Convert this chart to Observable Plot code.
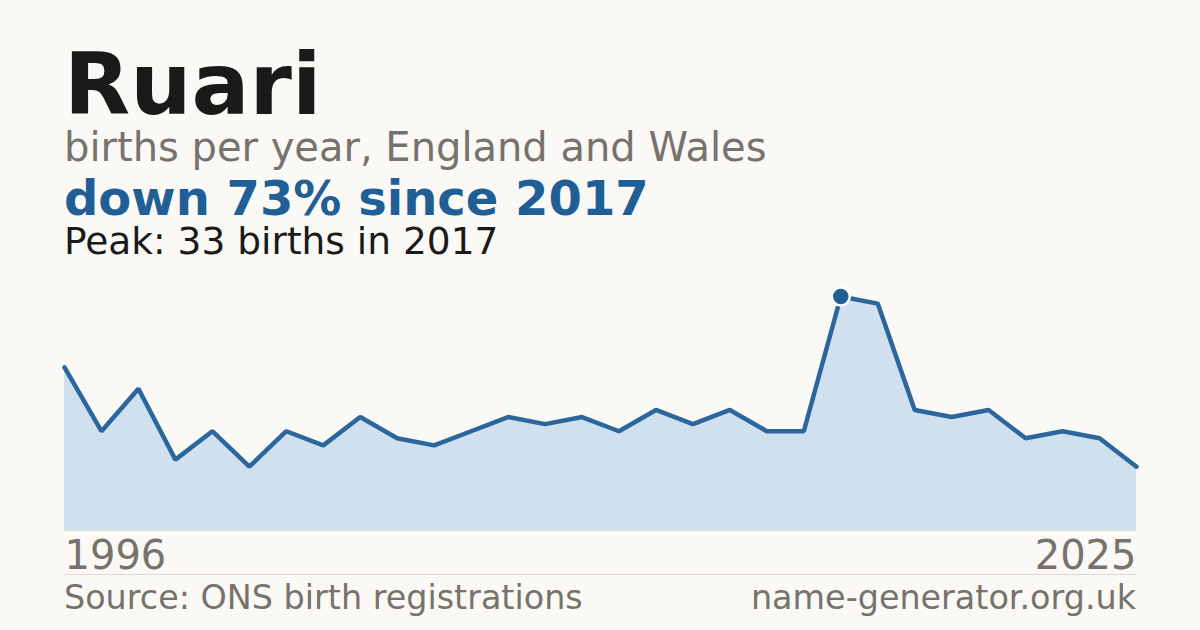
<!DOCTYPE html>
<html>
<head>
<meta charset="utf-8">
<script src="https://cdn.jsdelivr.net/npm/d3@7"></script>
<script src="https://cdn.jsdelivr.net/npm/@observablehq/plot@0.6"></script>
<style>
  html, body { margin: 0; padding: 0; background: #faf9f5; }
  body { width: 1200px; height: 630px; position: relative; overflow: hidden; font-family: "DejaVu Sans", sans-serif; }
  .t { position: absolute; left: 64px; white-space: nowrap; line-height: 0.8; }
  #title { top: 50px; font-size: 86px; font-weight: bold; color: #1a1a1a; }
  #sub { top: 131px; font-size: 40px; color: #77736c; }
  #stat { top: 179px; font-size: 48px; font-weight: bold; color: #1f5f96; }
  #peak { top: 226px; font-size: 37.5px; color: #1a1a1a; }
  #chart { position: absolute; left: 0; top: 270px; }
  #sep { position: absolute; left: 64px; top: 574px; width: 1072px; height: 1px; background: #ddd8d0; }
  .foot { position: absolute; top: 585px; font-size: 33.4px; color: #77736c; white-space: nowrap; line-height: 0.8; }
  #src { left: 64px; }
  #site { right: 64px; }
</style>
</head>
<body>
<div class="t" id="title">Ruari</div>
<div class="t" id="sub">births per year, England and Wales</div>
<div class="t" id="stat">down 73% since 2017</div>
<div class="t" id="peak">Peak: 33 births in 2017</div>
<div id="chart"></div>
<div id="sep"></div>
<div class="foot" id="src">Source: ONS birth registrations</div>
<div class="foot" id="site">name-generator.org.uk</div>
<script>
const years = [1996,1997,1998,1999,2000,2001,2002,2003,2004,2005,2006,2007,2008,2009,2010,2011,2012,2013,2014,2015,2016,2017,2018,2019,2020,2021,2022,2023,2024,2025];
const births = [23,14,20,10,14,9,14,12,16,13,12,14,16,15,16,14,17,15,17,14,14,33,32,17,16,17,13,14,13,9];
const peakYear = 2017;
const peakValue = 33;
const tickLabels = [1996, 2025];

const data = years.map((y, i) => ({year: y, births: births[i]}));

const chart = Plot.plot({
  width: 1200,
  height: 320,
  marginTop: 26,
  marginBottom: 60,
  marginLeft: 64,
  marginRight: 64,
  style: {background: "transparent", fontFamily: "DejaVu Sans, sans-serif", overflow: "visible"},
  x: {type: "linear", domain: [years[0], years[years.length - 1]], axis: null},
  y: {domain: [0, peakValue], axis: null},
  marks: [
    Plot.areaY(data, {x: "year", y: "births", fill: "#d0e0ef"}),
    Plot.ruleY([0], {stroke: "#e2ddd4", strokeWidth: 1}),
    Plot.lineY(data, {x: "year", y: "births", stroke: "#2b669d", strokeWidth: 4.5, strokeLinejoin: "miter"}),
    Plot.dot([{year: peakYear, births: peakValue}], {x: "year", y: "births", r: 9, fill: "#1f5f96", stroke: "white", strokeWidth: 2.5}),
    Plot.text([tickLabels[0]], {x: d => d, text: d => String(d), frameAnchor: "bottom", dy: 10, lineAnchor: "top", textAnchor: "start", fontSize: 40, fill: "#77736c"}),
    Plot.text([tickLabels[1]], {x: d => d, text: d => String(d), frameAnchor: "bottom", dy: 10, lineAnchor: "top", textAnchor: "end", fontSize: 40, fill: "#77736c"})
  ]
});
document.getElementById("chart").appendChild(chart);
</script>
</body>
</html>
